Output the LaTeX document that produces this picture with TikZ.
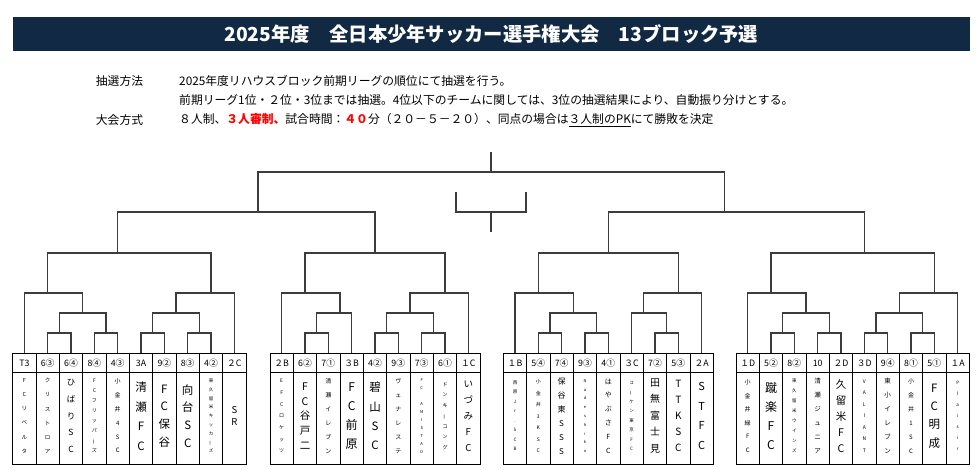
\documentclass[tikz,border=0pt]{standalone}
\usepackage{fontspec}
\setmainfont{Noto Sans CJK JP}
\usepackage{graphicx}
\definecolor{barnavy}{RGB}{17,41,66}
\definecolor{linegray}{RGB}{60,60,60}
% long vowel mark set upright, as in the vertical cells
\newcommand\bou{\rotatebox[origin=c]{90}{ー}}
% one team column: name, x, draw label, font size, pitch, stacked name
\newcommand\team[6]{%
  \node[hdrcell] (#1) at (#2,363) {#3};%
  \node[namecell] (#1box) at (#2,418.5) {};%
  \node[font=\fontsize{#4}{#5}\selectfont, align=center, inner sep=0pt] (#1name) at (#2,416) {#6};%
}
\tikzset{
  bline/.style={line width=1.2pt, draw=linegray},
  hdrcell/.style={draw, line width=0.8pt, minimum width=23.33pt, minimum height=19.4pt, inner sep=0pt, font=\fontsize{8.8}{10}\selectfont},
  namecell/.style={draw, line width=0.8pt, minimum width=23.33pt, minimum height=91.6pt, inner sep=0pt},
  txt/.style={anchor=west, inner sep=0pt, font=\fontsize{11.8}{14}\selectfont},
  titlebar/.style={fill=barnavy, text=white, minimum width=956.7pt, minimum height=33.7pt, inner sep=0pt, font=\fontsize{19.3}{24}\selectfont\bfseries}
}
\begin{document}
\begin{tikzpicture}[x=1pt,y=-1pt]
\useasboundingbox (0,0) rectangle (977,470);

% Title bar
\node[titlebar] (title) at (491.35,33.9) {2025年度　全日本少年サッカー選手権大会　13ブロック予選};

% Rules text
\node[txt] (lab1) at (95.7,81) {抽選方法};
\node[txt] (rule1) at (179,81) {2025年度リハウスブロック前期リーグの順位にて抽選を行う。};
\node[txt] (rule2) at (179,100) {前期リーグ1位・２位・3位までは抽選。4位以下のチームに関しては、3位の抽選結果により、自動振り分けとする。};
\node[txt] (lab2) at (95.7,120) {大会方式};
\node[txt] (rule3) at (179,120) {８人制、{\color{red}\bfseries ３人審制、}試合時間：{\color{red}\bfseries ４０}分（２０－５－２０）、同点の場合は\underline{３人制のPK}にて勝敗を決定};

% Team columns, group A
\team{a1}{24.4}{T3}{5.5}{14.2}{F\\C\\リ\\ベ\\ル\\タ}
\team{a2}{47.7}{6③}{5.5}{14.2}{ク\\リ\\ス\\ト\\ロ\\ア}
\team{a3}{71.0}{6④}{8.5}{16.8}{ひ\\ば\\り\\S\\C}
\team{a4}{94.4}{8④}{5}{10}{F\\C\\フ\\リ\\ッ\\パ\\\bou\\ズ}
\team{a5}{117.7}{4③}{6}{13.8}{小\\金\\井\\4\\S\\C}
\team{a6}{141.0}{3A}{11.5}{19.5}{清\\瀬\\F\\C}
\team{a7}{164.4}{9②}{11.5}{17.8}{F\\C\\保\\谷}
\team{a8}{187.7}{8③}{11.5}{17.8}{向\\台\\S\\C}
\team{a9}{211.0}{4②}{4.5}{8.8}{東\\久\\留\\米\\キ\\ッ\\カ\\\bou\\ズ}
\team{a10}{234.4}{２C}{9.5}{12.5}{S\\R}

% Team columns, group B
\team{b1}{281.7}{２B}{5}{11.7}{E\\F\\C\\ロ\\ケ\\ッ\\ツ}
\team{b2}{305.0}{6②}{10.5}{14.8}{F\\C\\谷\\戸\\二}
\team{b3}{328.3}{7①}{6}{14}{清\\瀬\\イ\\レ\\ブ\\ン}
\team{b4}{351.7}{３B}{12}{19.2}{F\\C\\前\\原}
\team{b5}{375.0}{4②}{11.5}{19.2}{碧\\山\\S\\C}
\team{b6}{398.3}{9③}{6}{14}{ヴ\\ェ\\ナ\\レ\\ス\\テ}
\team{b7}{421.7}{7③}{4}{8}{F\\C\\~\\A\\M\\I\\S\\T\\A\\D}
\team{b8}{445.0}{6①}{5}{10.5}{ド\\ン\\キ\\\bou\\コ\\ン\\グ}
\team{b9}{468.3}{１C}{9.5}{16}{い\\づ\\み\\F\\C}

% Team columns, group C
\team{c1}{515.0}{１B}{4.5}{9.5}{西\\原\\J\\r\\.\\S\\C\\B}
\team{c2}{538.3}{5④}{5}{11.5}{小\\金\\井\\3\\K\\S\\C}
\team{c3}{561.6}{7④}{8}{14}{保\\谷\\東\\S\\S\\S}
\team{c4}{585.0}{9③}{4}{8.8}{N\\a\\d\\e\\s\\h\\i\\k\\o}
\team{c5}{608.3}{4①}{7}{13.8}{は\\や\\ぶ\\さ\\F\\C}
\team{c6}{631.6}{３C}{4.5}{9.5}{コ\\\bou\\ケ\\ン\\東\\京\\F\\C}
\team{c7}{655.0}{7②}{10}{16.5}{田\\無\\富\\士\\見}
\team{c8}{678.3}{5③}{10}{16}{T\\T\\K\\S\\C}
\team{c9}{701.6}{２A}{11}{19.5}{S\\T\\F\\C}

% Team columns, group D
\team{d1}{747.7}{１D}{6}{13.5}{小\\金\\井\\緑\\F\\C}
\team{d2}{771.0}{5②}{12}{19}{蹴\\楽\\F\\C}
\team{d3}{794.3}{8②}{4.5}{10}{東\\久\\留\\米\\ウ\\イ\\ン\\ズ}
\team{d4}{817.7}{10}{6.5}{14}{清\\瀬\\ジ\\ュ\\ニ\\ア}
\team{d5}{841.0}{２D}{10.5}{16}{久\\留\\米\\F\\C}
\team{d6}{864.3}{３D}{5}{11.5}{V\\A\\L\\I\\A\\N\\T}
\team{d7}{887.7}{9④}{6.5}{14}{東\\小\\イ\\レ\\ブ\\ン}
\team{d8}{911.0}{8①}{6}{14}{小\\金\\井\\1\\S\\C}
\team{d9}{934.3}{5①}{11.5}{18.3}{F\\C\\明\\成}
\team{d10}{957.7}{１A}{4.5}{11}{P\\l\\a\\i\\s\\i\\r}

% Bracket, group A
\coordinate (a5a) at (59.4,333);  \draw[bline] (a2.north) |- (a5a) -| (a3.north);
\coordinate (a5b) at (106.0,333); \draw[bline] (a4.north) |- (a5b) -| (a5.north);
\coordinate (a5c) at (152.7,333); \draw[bline] (a6.north) |- (a5c) -| (a7.north);
\coordinate (a5d) at (199.4,333); \draw[bline] (a8.north) |- (a5d) -| (a9.north);
\coordinate (a4a) at (82.7,313);  \draw[bline] (a5a) |- (a4a) -| (a5b);
\coordinate (a4b) at (176.0,313); \draw[bline] (a5c) |- (a4b) -| (a5d);
\coordinate (a3a) at (47.7,293);  \draw[bline] (a1.north) |- (a3a) -| (a4a);
\coordinate (a3b) at (211.0,293); \draw[bline] (a4b) |- (a3b) -| (a10.north);
\coordinate (qa) at (117.7,253);  \draw[bline] (a3a) |- (qa) -| (a3b);

% Bracket, group B
\coordinate (b5a) at (316.7,333); \draw[bline] (b2.north) |- (b5a) -| (b3.north);
\coordinate (b5b) at (386.7,333); \draw[bline] (b5.north) |- (b5b) -| (b6.north);
\coordinate (b5c) at (433.3,333); \draw[bline] (b7.north) |- (b5c) -| (b8.north);
\coordinate (b4a) at (340.0,313); \draw[bline] (b5a) |- (b4a) -| (b4.north);
\coordinate (b4b) at (410.0,313); \draw[bline] (b5b) |- (b4b) -| (b5c);
\coordinate (b3a) at (305.0,293); \draw[bline] (b1.north) |- (b3a) -| (b4a);
\coordinate (b3b) at (445.0,293); \draw[bline] (b4b) |- (b3b) -| (b9.north);
\coordinate (qb) at (375.0,253);  \draw[bline] (b3a) |- (qb) -| (b3b);

% Bracket, group C
\coordinate (c5a) at (550.0,333); \draw[bline] (c2.north) |- (c5a) -| (c3.north);
\coordinate (c5b) at (596.6,333); \draw[bline] (c4.north) |- (c5b) -| (c5.north);
\coordinate (c5c) at (666.6,333); \draw[bline] (c7.north) |- (c5c) -| (c8.north);
\coordinate (c4a) at (573.3,313); \draw[bline] (c5a) |- (c4a) -| (c5b);
\coordinate (c4b) at (643.3,313); \draw[bline] (c6.north) |- (c4b) -| (c5c);
\coordinate (c3a) at (538.3,293); \draw[bline] (c1.north) |- (c3a) -| (c4a);
\coordinate (c3b) at (678.3,293); \draw[bline] (c4b) |- (c3b) -| (c9.north);
\coordinate (qc) at (608.3,253);  \draw[bline] (c3a) |- (qc) -| (c3b);

% Bracket, group D
\coordinate (d5a) at (782.7,333); \draw[bline] (d2.north) |- (d5a) -| (d3.north);
\coordinate (d5b) at (829.3,333); \draw[bline] (d4.north) |- (d5b) -| (d5.north);
\coordinate (d5c) at (876.0,333); \draw[bline] (d6.north) |- (d5c) -| (d7.north);
\coordinate (d5d) at (922.7,333); \draw[bline] (d8.north) |- (d5d) -| (d9.north);
\coordinate (d4a) at (806.0,313); \draw[bline] (d5a) |- (d4a) -| (d5b);
\coordinate (d4b) at (899.3,313); \draw[bline] (d5c) |- (d4b) -| (d5d);
\coordinate (d3a) at (771.0,293); \draw[bline] (d1.north) |- (d3a) -| (d4a);
\coordinate (d3b) at (934.3,293); \draw[bline] (d4b) |- (d3b) -| (d10.north);
\coordinate (qd) at (864.3,253);  \draw[bline] (d3a) |- (qd) -| (d3b);

% Semi finals and final
\coordinate (sl) at (258.0,212);  \draw[bline] (qa) |- (sl) -| (qb);
\coordinate (sr) at (724.7,212);  \draw[bline] (qc) |- (sr) -| (qd);
\coordinate (fin) at (491.0,172); \draw[bline] (sl) |- (fin) -| (sr);
\coordinate (champ) at (491.0,152); \draw[bline] (fin) -- (champ);

% Third place match
\coordinate (th1) at (456.0,192); \coordinate (th2) at (526.0,192);
\coordinate (thp) at (491.0,212); \coordinate (thw) at (491.0,232);
\draw[bline] (th1) |- (thp) -| (th2);
\draw[bline] (thp) -- (thw);
\end{tikzpicture}
\end{document}
